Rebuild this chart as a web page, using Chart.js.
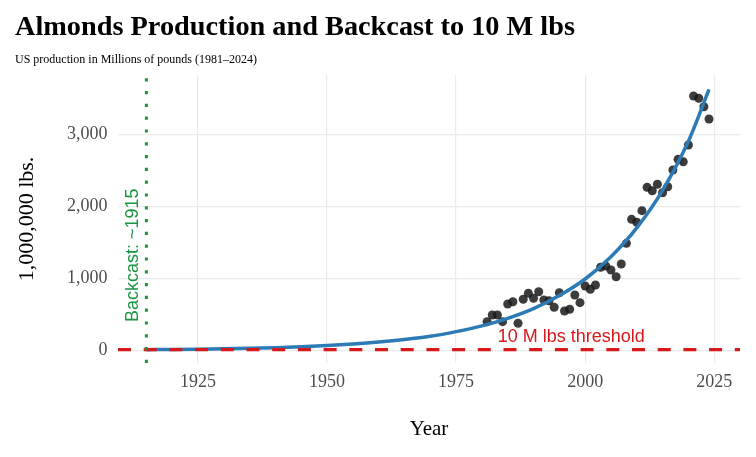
<!DOCTYPE html>
<html>
<head>
<meta charset="utf-8">
<script src="https://cdn.jsdelivr.net/npm/chart.js@4.4.1/dist/chart.umd.min.js"></script>
<style>
  html, body { margin: 0; padding: 0; background: #ffffff; }
  #wrap { width: 756px; height: 457px; }
</style>
</head>
<body>
<div id="wrap"><canvas id="almonds" width="756" height="457"></canvas></div>
<script>
const obsYears = [1981, 1982, 1983, 1984, 1985, 1986, 1987, 1988, 1989, 1990,
                  1991, 1992, 1993, 1994, 1995, 1996, 1997, 1998, 1999, 2000,
                  2001, 2002, 2003, 2004, 2005, 2006, 2007, 2008, 2009, 2010,
                  2011, 2012, 2013, 2014, 2015, 2016, 2017, 2018, 2019, 2020,
                  2021, 2022, 2023, 2024];
const obsValues = [398, 491, 491, 398, 644, 675, 376, 709, 792, 723,
                   814, 699, 689, 598, 800, 546, 570, 768, 662, 893,
                   847, 907, 1153, 1171, 1115, 1022, 1198, 1485, 1818, 1777,
                   1938, 2262, 2215, 2304, 2187, 2270, 2502, 2650, 2617, 2849,
                   3528, 3497, 3380, 3209];

// Fitted exponential curve / backcast, read at 5-year steps
const fitYears  = [1915, 1920, 1925, 1930, 1935, 1940, 1945, 1950, 1955, 1960,
                   1965, 1970, 1975, 1980, 1985, 1990, 1995, 2000, 2005, 2010,
                   2015, 2020, 2024];
const fitValues = [10, 13, 17, 22, 29, 38, 50, 67, 88, 115,
                   150, 195, 260, 340, 445, 580, 760, 990, 1300, 1700,
                   2220, 2900, 3620];

const xTicks = [1925, 1950, 1975, 2000, 2025];
const yTicks = [0, 1000, 2000, 3000];

const backcastYear = 1915;
const thresholdValue = 10;

const xMin = 1909.5, xMax = 2030;
const yMin = -175, yMax = 3820;

const GREEN = "#1A9641";
const RED = "#D7191C";
const BLUE = "#2C7BB6";
const SERIF = "'Liberation Serif', 'Times New Roman', serif";
const SANS = "'Liberation Sans', Arial, sans-serif";

// Title, subtitle and the two annotations
const textPlugin = {
    id: "textPlugin",
    afterDatasetsDraw(chart) {
        const ctx = chart.ctx;
        const x = chart.scales.x, y = chart.scales.y;
        ctx.save();
        ctx.font = "18px " + SANS;
        ctx.textAlign = "center";
        ctx.textBaseline = "middle";
        ctx.fillStyle = RED;
        ctx.fillText("10 M lbs threshold", x.getPixelForValue(1997.3), y.getPixelForValue(180));

        ctx.translate(x.getPixelForValue(1912.4), y.getPixelForValue(1320));
        ctx.rotate(-Math.PI / 2);
        ctx.fillStyle = GREEN;
        ctx.fillText("Backcast: ~1915", 0, 0);
        ctx.restore();
    },
    afterDraw(chart) {
        const ctx = chart.ctx;
        ctx.save();
        ctx.fillStyle = "#000000";
        ctx.textAlign = "left";
        ctx.textBaseline = "alphabetic";
        ctx.font = "bold 28.3px " + SERIF;
        ctx.fillText("Almonds Production and Backcast to 10 M lbs", 15, 35);
        ctx.font = "12px " + SERIF;
        ctx.fillText("US production in Millions of pounds (1981\u20132024)", 15, 63);
        ctx.restore();
    }
};

new Chart(document.getElementById("almonds"), {
    type: "scatter",
    data: {
        datasets: [
            {
                type: "line",
                data: [{ x: backcastYear, y: yMin }, { x: backcastYear, y: yMax }],
                borderColor: GREEN,
                borderWidth: 3,
                borderDash: [3.2, 9.6],
                pointRadius: 0,
                order: 0
            },
            {
                type: "line",
                data: [{ x: xMin, y: thresholdValue }, { x: xMax, y: thresholdValue }],
                borderColor: RED,
                borderWidth: 3.3,
                borderDash: [13, 12.7],
                pointRadius: 0,
                order: 1
            },
            {
                type: "line",
                data: fitYears.map((yr, i) => ({ x: yr, y: fitValues[i] })),
                borderColor: BLUE,
                borderWidth: 3.5,
                cubicInterpolationMode: "monotone",
                pointRadius: 0,
                order: 2
            },
            {
                data: obsYears.map((yr, i) => ({ x: yr, y: obsValues[i] })),
                backgroundColor: "rgba(26, 26, 26, 0.85)",
                borderWidth: 0,
                pointRadius: 4.5,
                order: 3
            }
        ]
    },
    options: {
        responsive: false,
        animation: false,
        events: [],
        layout: { padding: { top: 75, right: 16, left: 0, bottom: 0 } },
        plugins: {
            legend: { display: false },
            tooltip: { enabled: false }
        },
        scales: {
            x: {
                type: "linear",
                min: xMin,
                max: xMax,
                afterBuildTicks: s => { s.ticks = xTicks.map(v => ({ value: v })); },
                afterFit: s => { s.height = 94; },
                grid: { color: "#EBEBEB", lineWidth: 1.2, drawTicks: false },
                border: { display: false },
                ticks: {
                    color: "#4D4D4D",
                    padding: 8,
                    font: { family: SERIF, size: 18 },
                    callback: v => String(v)
                },
                title: {
                    display: true,
                    text: "Year",
                    color: "#000000",
                    font: { family: SERIF, size: 21 },
                    padding: { top: 0, bottom: 15 }
                }
            },
            y: {
                type: "linear",
                min: yMin,
                max: yMax,
                afterBuildTicks: s => { s.ticks = yTicks.map(v => ({ value: v })); },
                afterFit: s => { s.width = 118; },
                grid: { color: "#EBEBEB", lineWidth: 1.2, drawTicks: false },
                border: { display: false },
                ticks: {
                    color: "#4D4D4D",
                    padding: 10.5,
                    font: { family: SERIF, size: 18 },
                    callback: v => v.toLocaleString("en-US")
                },
                title: {
                    display: true,
                    text: "1,000,000 lbs.",
                    color: "#000000",
                    font: { family: SERIF, size: 22 },
                    padding: { top: 14, bottom: 0 }
                }
            }
        }
    },
    plugins: [textPlugin]
});
</script>
</body>
</html>
